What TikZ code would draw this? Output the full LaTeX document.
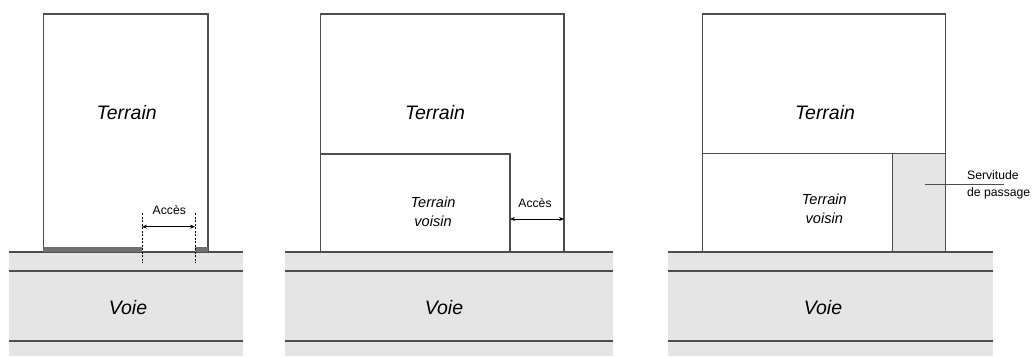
\documentclass[tikz,border=0pt]{standalone}
\usepackage{fontspec}
\setmainfont{Liberation Sans}
\usetikzlibrary{arrows.meta}
\definecolor{ln}{HTML}{4D4D4D}
\definecolor{road}{HTML}{E5E5E5}
\definecolor{strip}{HTML}{707070}
\begin{document}
\begin{tikzpicture}[x=1pt,y=-1pt,line width=1.3pt,
  edge/.style={draw=ln},
  big/.style={font=\fontsize{19.5}{22}\selectfont\itshape,text=black,inner sep=0pt},
  mid/.style={font=\fontsize{14.6}{19}\selectfont\itshape,align=center,text=black,inner sep=0pt},
  small/.style={font=\fontsize{12.2}{16.7}\selectfont,text=black,inner sep=0pt},
  dim/.style={draw=black,line width=0.8pt,{Stealth[length=5pt,width=4pt]}-{Stealth[length=5pt,width=4pt]}},
  guide/.style={draw=black,line width=0.6pt,dash pattern=on 2pt off 1.5pt}]
\useasboundingbox (0,0) rectangle (1033,356);
% ---------- Panel 1 ----------
\fill[road] (9,252) rectangle (242.7,356);
\draw[edge] (9,252) -- (242.7,252) (9,271) -- (242.7,271) (9,341) -- (242.7,341);
\draw[edge] (43.3,252) rectangle (208,14);
\fill[strip] (43.3,247) rectangle (142,252);
\fill[strip] (195,247) rectangle (208,252);
\draw[guide] (142,213) -- (142,263) (195,213) -- (195,263);
\coordinate (a1) at (142,226.7);
\coordinate (a2) at (195,226.7);
\draw[dim] (a1) -- (a2);
\node[small] (acc1) at (169.3,210) {Accès};
\node[big] (t1) at (126.7,113) {Terrain};
\node[big] (v1) at (128,308) {Voie};
% ---------- Panel 2 ----------
\fill[road] (285.3,252) rectangle (612.7,356);
\draw[edge] (285.3,252) -- (612.7,252) (285.3,271) -- (612.7,271) (285.3,341) -- (612.7,341);
\draw[edge] (320.7,252) rectangle (564,14);
\draw[edge] (320.7,154) -- (510,154) -- (510,252);
\coordinate (b1) at (510,219);
\coordinate (b2) at (564,219);
\draw[dim] (b1) -- (b2);
\node[small] (acc2) at (535,202.7) {Accès};
\node[big] (t2) at (435,113) {Terrain};
\node[mid] (tv2) at (433,212) {Terrain\\voisin};
\node[big] (v2) at (444,308) {Voie};
% ---------- Panel 3 ----------
\fill[road] (667.7,252) rectangle (993,356);
\draw[edge] (667.7,252) -- (993,252) (667.7,271) -- (993,271) (667.7,341) -- (993,341);
\fill[road] (892.3,153.5) rectangle (945.7,252);
\draw[edge] (702.7,252) rectangle (945.7,14);
\draw[edge] (702.7,153.5) -- (945.7,153.5) (892.3,153.5) -- (892.3,252);
\node[big] (t3) at (825,113) {Terrain};
\node[mid] (tv3) at (824.3,209) {Terrain\\voisin};
\node[big] (v3) at (823,308) {Voie};
\coordinate (s1) at (925,184.3);
\coordinate (s2) at (1004,184.3);
\draw[edge,line width=1pt] (s1) -- (s2);
\node[small,anchor=west,align=left] (serv) at (966.5,184.5) {Servitude\\de passage};
\end{tikzpicture}
\end{document}
